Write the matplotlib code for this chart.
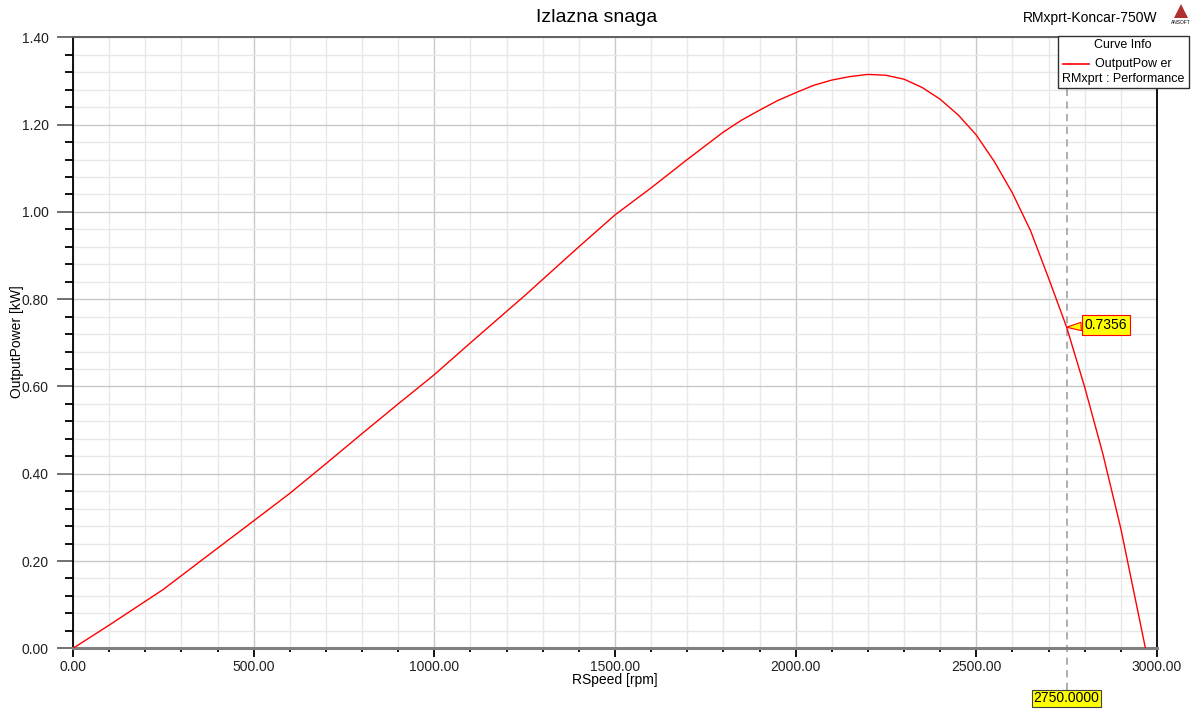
"""
RMxprt output power vs speed
"""

import matplotlib.pyplot as plt
from matplotlib.ticker import MultipleLocator, FormatStrFormatter
from matplotlib.patches import Rectangle, Polygon
from matplotlib.lines import Line2D

plt.rcParams['font.family'] = ['Liberation Sans', 'DejaVu Sans']

# speed [rpm] and output power [kW]
speed = [0, 100, 250, 350, 500, 600, 700, 800, 900, 1000, 1100, 1250, 1400, 1500, 1600,
         1700, 1800, 1850, 1900, 1950, 2000, 2050, 2100, 2150, 2200, 2250, 2300, 2350, 2400,
         2450, 2500, 2550, 2600, 2650, 2700, 2750, 2800, 2850, 2900, 2968]
power = [0.0, 0.053, 0.135, 0.198, 0.292, 0.355, 0.423, 0.492, 0.560, 0.627, 0.700, 0.808,
         0.920, 0.993, 1.055, 1.120, 1.183, 1.210, 1.233, 1.255, 1.273, 1.290, 1.302, 1.310,
         1.315, 1.313, 1.304, 1.285, 1.258, 1.222, 1.176, 1.115, 1.043, 0.957, 0.848, 0.7356,
         0.598, 0.446, 0.274, 0.0]

marker_x = 2750.0
marker_y = 0.7356

fig = plt.figure(figsize=(11.99, 7.11), dpi=100)
ax = fig.add_axes([73/1199, 1 - 648.3/711, 1084/1199, 611/711])

ax.plot(speed, power, color='#ff0000', lw=1.0, zorder=3)

ax.set_xlim(0, 3000)
ax.set_ylim(0, 1.4)
ax.xaxis.set_major_locator(MultipleLocator(500))
ax.xaxis.set_minor_locator(MultipleLocator(100))
ax.yaxis.set_major_locator(MultipleLocator(0.2))
ax.yaxis.set_minor_locator(MultipleLocator(0.04))
ax.xaxis.set_major_formatter(FormatStrFormatter('%.2f'))
ax.yaxis.set_major_formatter(FormatStrFormatter('%.2f'))

ax.grid(which='major', color='#c8c8c8', lw=1.0)
ax.grid(which='minor', color='#e8e8e8', lw=1.0)
ax.set_axisbelow(True)

ax.tick_params(axis='x', which='major', direction='out', length=6.5, width=1.3, color='black',
               pad=2, labelsize=10, labelcolor='#202020')
ax.tick_params(axis='x', which='minor', direction='out', length=3, width=1.3, color='black')
ax.tick_params(axis='y', which='major', direction='out', length=11.5, width=1.4, color='#707070',
               pad=6, labelsize=10, labelcolor='#202020')
ax.tick_params(axis='y', which='minor', direction='out', length=6, width=1.3, color='black')

ax.spines['bottom'].set_color('#808080')
ax.spines['bottom'].set_linewidth(2.2)
ax.spines['top'].set_color('#606060')
ax.spines['top'].set_linewidth(1.4)
ax.spines['left'].set_color('black')
ax.spines['left'].set_linewidth(1.3)
ax.spines['right'].set_color('black')
ax.spines['right'].set_linewidth(1.3)

# marker line at 2750 rpm
ax.axvline(marker_x, ymin=-0.068, ymax=1.0, color='#a8a8a8', lw=1.3, ls=(0, (4, 3)),
           clip_on=False, zorder=2)
ax.annotate('%.4f' % marker_x, xy=(marker_x, 0), xycoords='data',
            xytext=(0, -36), textcoords='offset points', ha='center', va='center',
            fontsize=10, annotation_clip=False, zorder=5,
            bbox=dict(boxstyle='square,pad=0.12', fc='#ffff00', ec='#404040', lw=0.8))
ax.annotate('%.4f' % marker_y, xy=(marker_x, marker_y), xycoords='data',
            xytext=(28, 1.5), textcoords='offset points', ha='center', va='center',
            fontsize=10, zorder=5,
            bbox=dict(boxstyle='square,pad=0.2', fc='#ffff00', ec='#ff0000', lw=0.8),
            arrowprops=dict(arrowstyle='wedge,tail_width=0.6,shrink_factor=0.5',
                            fc='#ffff00', ec='#ff0000', lw=0.8, shrinkA=0, shrinkB=0))

# titles and axis labels
fig.text(597/1199, 1 - 18/711, 'Izlazna snaga', ha='center', va='center', fontsize=14)
fig.text(1090/1199, 1 - 18/711, 'RMxprt-Koncar-750W', ha='center', va='center', fontsize=10)
fig.text(615/1199, 1 - 680/711, 'RSpeed [rpm]', ha='center', va='center', fontsize=10)
fig.text(17/1199, 1 - 342/711, 'OutputPower [kW]', ha='center', va='center',
         rotation=90, fontsize=10)

# small logo
fig.add_artist(Polygon([[1181/1199, 1 - 4/711], [1174/1199, 1 - 18/711], [1188/1199, 1 - 18/711]],
                       closed=True, transform=fig.transFigure, fc='#b03030', ec='none'))
fig.text(1181/1199, 1 - 22/711, 'ANSOFT', ha='center', va='center', fontsize=3.5)

# curve info box
fig.add_artist(Rectangle((1058/1199, 1 - 88/711), 131/1199, 52/711, transform=fig.transFigure,
                         fc='white', ec='#303030', lw=1.0, zorder=10))
fig.text(1123/1199, 1 - 45/711, 'Curve Info', ha='center', va='center', fontsize=9, zorder=11)
fig.add_artist(Line2D([1063/1199, 1089/1199], [1 - 64/711, 1 - 64/711], transform=fig.transFigure,
                      color='#ff0000', lw=1.2, zorder=11))
fig.text(1133/1199, 1 - 64/711, 'OutputPow er', ha='center', va='center', fontsize=9, zorder=11)
fig.text(1062/1199, 1 - 79/711, 'RMxprt : Performance', ha='left', va='center', fontsize=9,
         zorder=11)

plt.savefig('out.png', dpi=100)
